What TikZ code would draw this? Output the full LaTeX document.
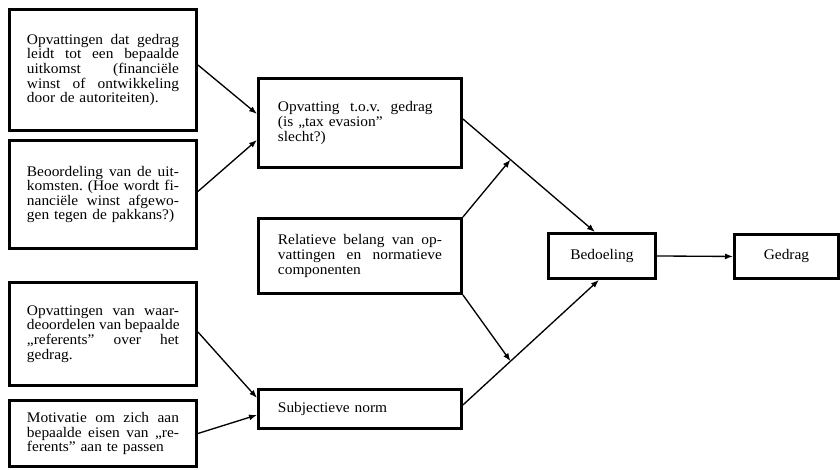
\documentclass[tikz,border=0pt]{standalone}
\usepackage{fontspec}
\setmainfont{Liberation Serif}[FakeStretch=1.05]
\usepackage{tikz}
\usetikzlibrary{arrows.meta,calc}
% one justified line of a box text
\newcommand{\jl}[2][\hsize]{\leavevmode\hbox to #1{\frenchspacing\spaceskip=.25em plus 1fil\relax #2}\\}
\tikzset{
  block/.style={rectangle, draw=black, line width=2.2pt, fill=white,
                font=\fontsize{11}{10.9}\selectfont, inner sep=2pt},
  note/.style={block, align=left, anchor=north west},
  ar/.style={-{Latex[length=6pt,width=4.5pt]}, draw=black, line width=1pt},
}

\begin{document}
\begin{tikzpicture}[x=0.75pt,y=-0.75pt]
\useasboundingbox (0,0) rectangle (840,469);

% ---------- left column ----------
\node[note,text width=114pt,minimum width=140.25pt,minimum height=90.75pt] (b1) at (8,8)
  {\jl{Opvattingen dat gedrag}\jl{leidt tot een bepaalde}\jl{uitkomst (financiële}\jl{winst of ontwikkeling}door de autoriteiten).};
\node[note,text width=114pt,minimum width=140.25pt,minimum height=81pt] (b2) at (8,139)
  {\jl{Beoordeling van de uit-}\jl{komsten. (Hoe wordt fi-}\jl{nanciële winst afgewo-}gen tegen de pakkans?)};
\node[note,text width=114pt,minimum width=140.25pt,minimum height=77.25pt] (b3) at (8,281)
  {\jl{Opvattingen van waar-}\jl{deoordelen van bepaalde}\jl{,,referents'' over het}gedrag.};
\node[note,text width=114pt,minimum width=140.25pt,minimum height=49.5pt] (b4) at (8,399)
  {\jl{Motivatie om zich aan}\jl{bepaalde eisen van ,,re-}ferents'' aan te passen};

% ---------- middle column ----------
\node[note,text width=123pt,minimum width=152.25pt,minimum height=66.75pt] (att) at (257,77)
  {\jl[116pt]{Opvatting t.o.v. gedrag}(is ,,tax evasion''\\slecht?)};
\node[note,text width=123pt,minimum width=152.25pt,minimum height=56.25pt] (rel) at (257,217)
  {\jl{Relatieve belang van op-}\jl{vattingen en normatieve}componenten};
\node[note,text width=123pt,minimum width=152.25pt,minimum height=29.25pt] (norm) at (257,388)
  {Subjectieve norm};

% ---------- right ----------
\node[block,anchor=north west,minimum width=80.25pt,minimum height=33.75pt] (bed) at (547,232) {Bedoeling};
\node[block,anchor=north west,minimum width=78pt,minimum height=33pt] (ged) at (733,233) {Gedrag};

% ---------- connectors ----------
\draw[ar] ($(b1.east)+(0,-5)$) -- ($(att.west)+(0,-9)$);
\draw[ar] ($(b2.east)+(0,-3)$) -- ($(att.west)+(0,17)$);
\draw[ar] ($(b3.east)+(0,-2)$) -- ($(norm.west)+(0,-11)$);
\draw[ar] (b4.east) -- ($(norm.west)+(0,6)$);

\coordinate (a0) at ($(att.east)+(0,-4)$);
\coordinate (a1) at ($(bed.north)+(-7,0)$);
\coordinate (c0) at ($(norm.east)+(0,-4)$);
\coordinate (c1) at ($(bed.south)+(-3,0)$);
\coordinate (p1) at ($(a0)!0.36!(a1)$);
\coordinate (p2) at ($(c0)!0.35!(c1)$);

\draw[ar] (a0) -- (a1);
\draw[ar] (c0) -- (c1);
\draw[ar] (rel.north east) -- (p1);
\draw[ar] (rel.south east) -- (p2);
\draw[ar] (bed.east) -- (ged.west);
\end{tikzpicture}
\end{document}
